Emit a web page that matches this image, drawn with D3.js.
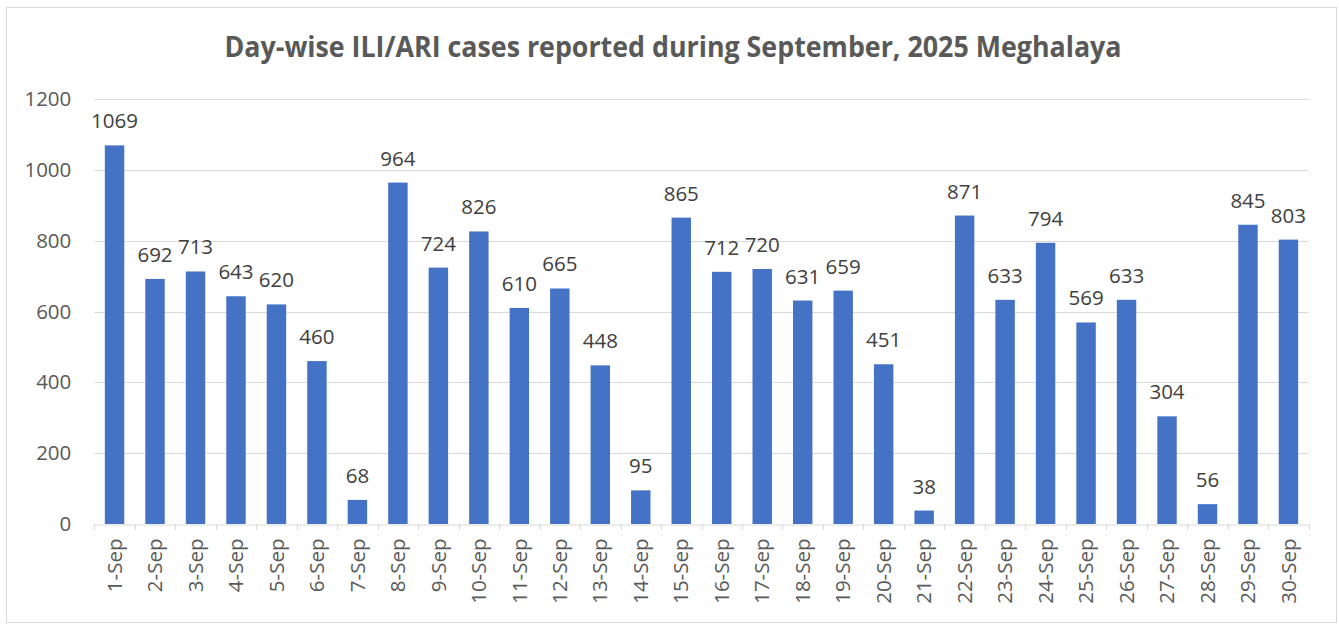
<!DOCTYPE html>
<html><head><meta charset="utf-8">
<script src="https://cdn.jsdelivr.net/npm/d3@7"></script>
<style>body{margin:0;background:#fff;} svg{display:block;}</style>
</head><body>
<svg id="chart" width="1339" height="625"></svg>
<script>
const title = "Day-wise ILI/ARI cases reported during September, 2025 Meghalaya";
const categories = ["1-Sep","2-Sep","3-Sep","4-Sep","5-Sep","6-Sep","7-Sep","8-Sep","9-Sep","10-Sep","11-Sep","12-Sep","13-Sep","14-Sep","15-Sep","16-Sep","17-Sep","18-Sep","19-Sep","20-Sep","21-Sep","22-Sep","23-Sep","24-Sep","25-Sep","26-Sep","27-Sep","28-Sep","29-Sep","30-Sep"];
const cases = [1069,692,713,643,620,460,68,964,724,826,610,665,448,95,865,712,720,631,659,451,38,871,633,794,569,633,304,56,845,803];
const yTicks = [0,200,400,600,800,1000,1200];

(function(){
const svg = d3.select("#chart");
const font = "'Open Sans', 'Liberation Sans', sans-serif";
const textColor = "#595959";
const fs = 20.5;
const pLeft = 94.3, pRight = 1308.7, pTop = 99, pBottom = 524;

svg.append("rect").attr("x",6.5).attr("y",7.5).attr("width",1330).attr("height",615)
  .attr("fill","#fff").attr("stroke","#d9d9d9").attr("stroke-width",1);

svg.append("text").attr("x",673).attr("y",57).attr("text-anchor","middle")
  .attr("font-family",font).attr("font-weight","bold").attr("font-size",28.5)
  .attr("fill",textColor).attr("textLength",897).attr("lengthAdjust","spacingAndGlyphs")
  .text(title);

const x = d3.scaleBand().domain(categories).range([pLeft,pRight]).paddingInner(0.52).paddingOuter(0.26);
const xb = d3.scaleBand().domain(categories).range([pLeft,pRight]);
const y = d3.scaleLinear().domain([0,1200]).range([pBottom,pTop]);

svg.append("g").selectAll("line").data(yTicks.filter(d=>d>0)).join("line")
  .attr("x1",pLeft).attr("x2",pRight).attr("y1",d=>Math.round(y(d))+0.5).attr("y2",d=>Math.round(y(d))+0.5)
  .attr("stroke","#d9d9d9").attr("stroke-width",1);

const yAxis = svg.append("g").attr("transform",`translate(${pLeft},0)`)
  .call(d3.axisLeft(y).tickValues(yTicks).tickFormat(d3.format("d")).tickSize(0).tickPadding(23));
yAxis.select(".domain").remove();
yAxis.selectAll("text").attr("font-family",font).attr("font-size",fs).attr("fill",textColor);

svg.append("g").selectAll("rect").data(cases).join("rect")
  .attr("x",(d,i)=>x(categories[i])).attr("width",x.bandwidth())
  .attr("y",d=>y(d)).attr("height",d=>pBottom-y(d)).attr("fill","#4472C4");

svg.append("g").selectAll("text").data(cases).join("text")
  .attr("x",(d,i)=>x(categories[i])+x.bandwidth()/2).attr("y",d=>y(d)-17)
  .attr("text-anchor","middle").attr("font-family",font).attr("font-size",fs).attr("fill","#404040")
  .text(d=>d);

const xAxis = svg.append("g").attr("transform",`translate(0,${pBottom+0.5})`)
  .call(d3.axisBottom(xb).tickSize(0));
xAxis.select(".domain").attr("stroke","#d9d9d9");
xAxis.selectAll(".tick text").attr("font-family",font).attr("font-size",fs).attr("fill",textColor)
  .attr("text-anchor","end").attr("transform","rotate(-90)").attr("x",-14).attr("y",0).attr("dy","0.35em");
const bounds = categories.map(c=>xb(c)).concat([pRight]);
svg.append("g").selectAll("line").data(bounds).join("line")
  .attr("x1",d=>Math.round(d)+0.5).attr("x2",d=>Math.round(d)+0.5).attr("y1",pBottom).attr("y2",pBottom+6)
  .attr("stroke","#d9d9d9").attr("stroke-width",1);
})();
</script>
</body></html>
